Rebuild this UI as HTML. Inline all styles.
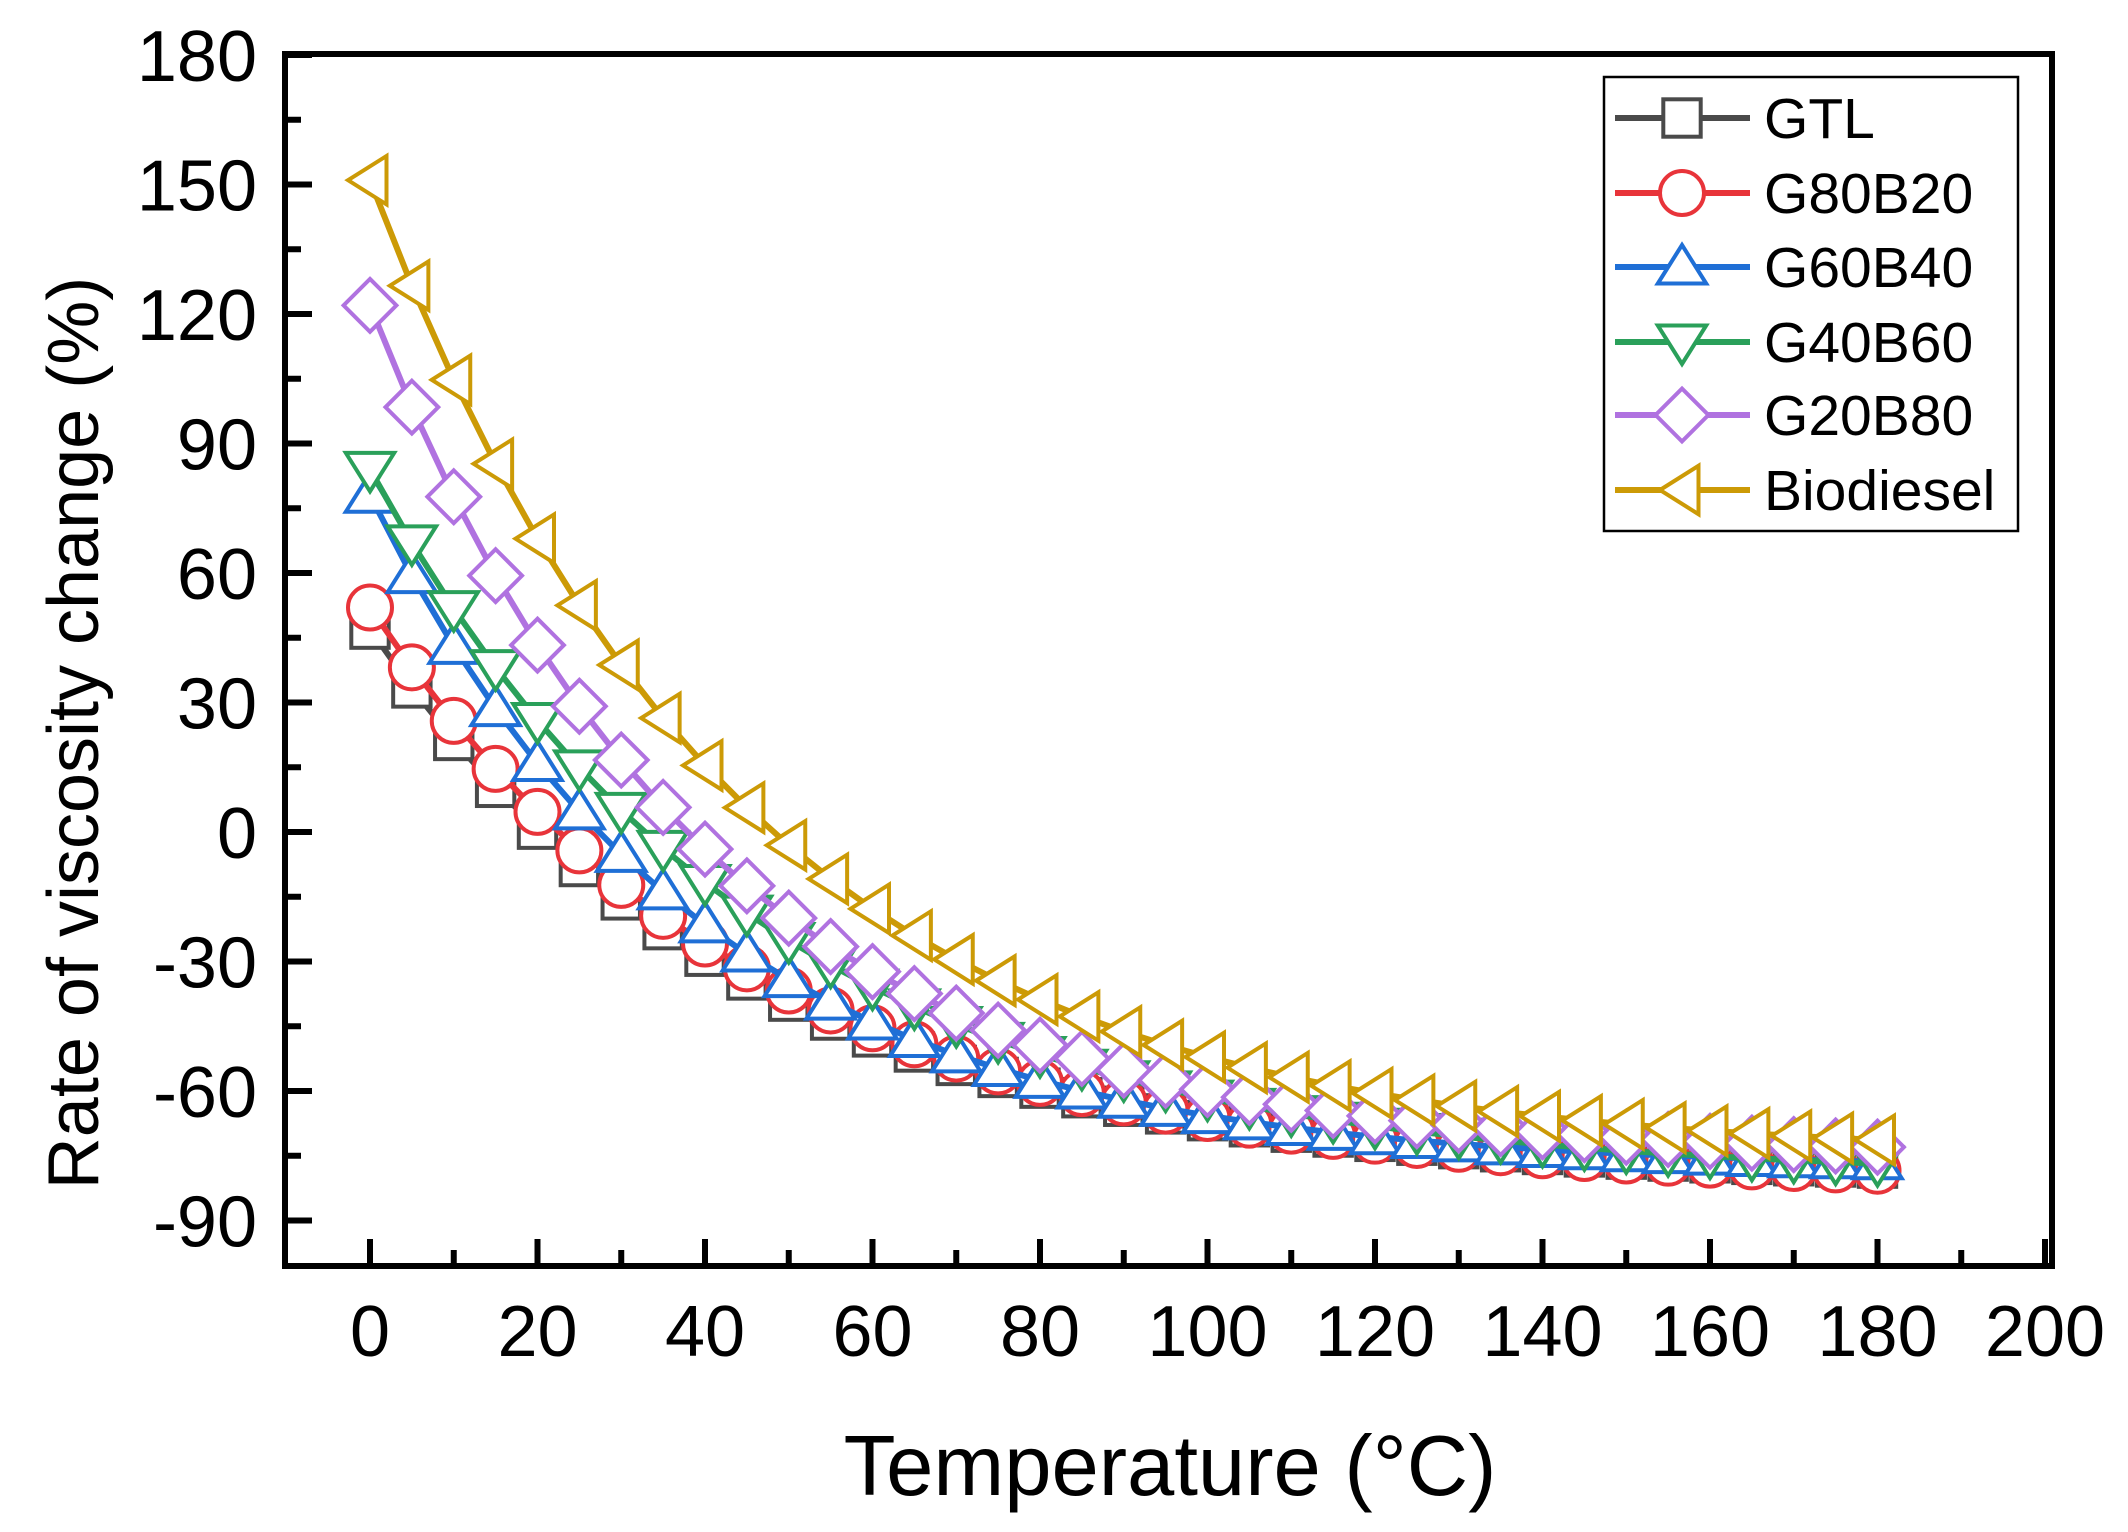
<!DOCTYPE html>
<html><head><meta charset="utf-8"><style>
html,body{margin:0;padding:0;background:#fff;}
svg{display:block;font-family:"Liberation Sans",Arial,sans-serif;}
</style></head><body>
<svg id="s" width="2128" height="1532" viewBox="0 0 2128 1532" xmlns="http://www.w3.org/2000/svg"></svg>
<script>
var s=document.getElementById('s');
var L=285,R=2052,T=54,B=1266;
function X(v){return 370+v*(2045-370)/200;}
function Y(v){return 832-v*129.5/30;}
var h='';
for(var v=-90;v<=180;v+=15){var y=Y(v);var maj=(v%30==0);
 if(y<=B&&y>=T){h+='<line x1="'+L+'" x2="'+(L+(maj?27:16))+'" y1="'+y+'" y2="'+y+'" stroke="#000" stroke-width="6"/>';}
 if(maj)h+='<text x="'+(L-28)+'" y="'+(y+26)+'" font-size="72" text-anchor="end">'+v+'</text>';}
for(var v=0;v<=200;v+=10){var x=X(v);var maj=(v%20==0);
 h+='<line x1="'+x+'" x2="'+x+'" y1="'+B+'" y2="'+(B-(maj?27:16))+'" stroke="#000" stroke-width="6"/>';
 if(maj)h+='<text x="'+x+'" y="'+(B+90)+'" font-size="72" text-anchor="middle">'+v+'</text>';}
h+='<rect x="'+L+'" y="'+T+'" width="'+(R-L)+'" height="'+(B-T)+'" fill="none" stroke="#000" stroke-width="6"/>';
h+='<text transform="translate(98,733) rotate(-90)" font-size="72" text-anchor="middle">Rate of viscosity change (%)</text>';
h+='<text x="1170" y="1495" font-size="85" text-anchor="middle">Temperature (°C)</text>';
var S=[
 ['GTL','#4a4a4a','sq',-80,127,0.0227],
 ['G80B20','#e8343a','ci',-81,133,0.022],
 ['G60B40','#1f6fd6','up',-78,156,0.0254],
 ['G40B60','#2aa05a','dn',-80,164,0.0219],
 ['G20B80','#b072e0','di',-75,197,0.0255],
 ['Biodiesel','#cc9a06','lt',-75,226,0.0229]];
function mk(t,x,y,c){var r=22;var a='fill="#fff" stroke="'+c+'" stroke-width="4"';
 if(t=='sq')return '<rect x="'+(x-r*0.85)+'" y="'+(y-r*0.85)+'" width="'+(r*1.7)+'" height="'+(r*1.7)+'" '+a+'/>';
 if(t=='ci')return '<circle cx="'+x+'" cy="'+y+'" r="'+r+'" '+a+'/>';
 var p;
 if(t=='up')p=[[x,y-r],[x+r*1.1,y+r*0.75],[x-r*1.1,y+r*0.75]];
 if(t=='dn')p=[[x,y+r],[x+r*1.1,y-r*0.75],[x-r*1.1,y-r*0.75]];
 if(t=='di')p=[[x,y-r*1.2],[x+r*1.2,y],[x,y+r*1.2],[x-r*1.2,y]];
 if(t=='lt')p=[[x-r,y],[x+r*0.75,y-r*1.1],[x+r*0.75,y+r*1.1]];
 return '<polygon points="'+p.map(function(q){return q.join(',')}).join(' ')+'" '+a+'/>';}
S.forEach(function(q){var pts=[];for(var t=0;t<=180;t+=5){pts.push([X(t),Y(q[3]+q[4]*Math.exp(-q[5]*t))]);}
 h+='<polyline points="'+pts.map(function(p){return p.join(',')}).join(' ')+'" fill="none" stroke="'+q[1]+'" stroke-width="6"/>';
 pts.forEach(function(p){h+=mk(q[2],p[0],p[1],q[1]);});});
h+='<rect x="1604" y="77" width="414" height="454" fill="#fff" stroke="#000" stroke-width="2.5"/>';
var ly=[118,193,267,342,415,490];
S.forEach(function(q,i){var y=ly[i];
 h+='<line x1="1615" x2="1750" y1="'+y+'" y2="'+y+'" stroke="'+q[1]+'" stroke-width="6"/>';
 h+=mk(q[2],1682,y,q[1]);
 h+='<text x="1764" y="'+(y+20)+'" font-size="57">'+q[0]+'</text>';});
s.innerHTML=h;
</script>
</body></html>
